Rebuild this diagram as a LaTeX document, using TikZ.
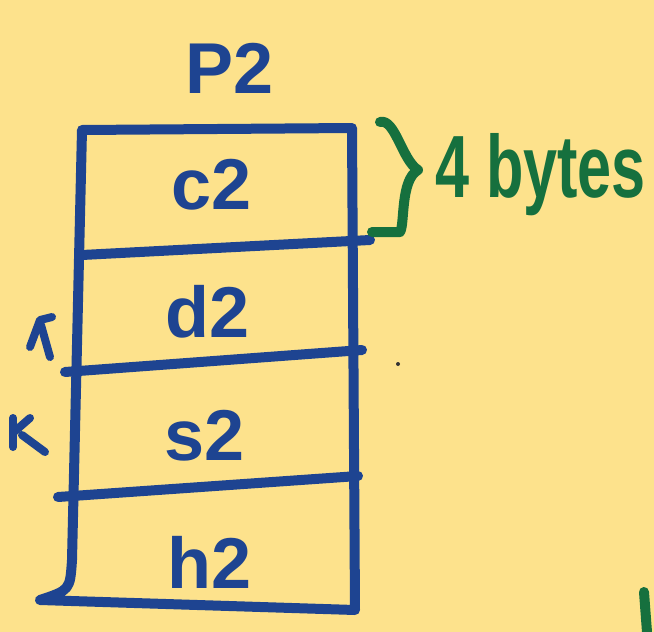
\documentclass[tikz,border=0pt]{standalone}
\usepackage{fontspec}
\setmainfont{Liberation Sans}
\begin{document}
\begin{tikzpicture}[
    x=0.5pt, y=-0.5pt,
    pen/.style={draw=penblue, line width=5pt, line cap=round, line join=round},
    greenpen/.style={draw=pengreen, line width=5pt, line cap=round, line join=round},
    cell/.style={text=penblue, font=\fontsize{36}{36}\selectfont\bfseries},
    note/.style={text=pengreen, font=\fontsize{34}{34}\selectfont\bfseries}
]
    \definecolor{paper}{RGB}{253,226,140}
    \definecolor{penblue}{RGB}{30,68,145}
    \definecolor{pengreen}{RGB}{22,112,62}
    \fill[paper] (0,0) rectangle (654,632);
    \useasboundingbox (0,0) rectangle (654,632);

    % Rahmen des Speicherblocks
    \draw[pen] (82,130) -- (352,128) -- (355,610) -- (40,600)
        .. controls (70,590) .. (72,560) -- (82,130);
    % Trennlinien zwischen den Feldern
    \draw[pen] (82,255) -- (370,240);
    \draw[pen] (65,372) -- (362,350);
    \draw[pen] (58,497) -- (358,476);

    % Beschriftungen
    \node[cell] (p2) at (230,68) {P2};
    \node[cell] (c2) at (212,185) {c2};
    \node[cell] (d2) at (208,312) {d2};
    \node[cell] (s2) at (205,436) {s2};
    \node[cell] (h2) at (210,562) {h2};

    % Klammer mit Größenangabe
    \draw[greenpen] (380,122) .. controls (395,118) and (402,160) .. (418,170)
        .. controls (400,180) and (405,225) .. (400,232) -- (372,232);
    \node[note, anchor=west] (bytes) at (428,175) {\scalebox{0.9}[1.3]{4 bytes}};

    % Randmarkierungen
    \draw[pen, line width=4pt] (30,347) -- (40,320) -- (52,317);
    \draw[pen, line width=4pt] (41,325) -- (50,357);
    \draw[pen, line width=4pt] (13,418) -- (13,447);
    \draw[pen, line width=4pt] (14,432) -- (30,418);
    \draw[pen, line width=4pt] (22,435) -- (45,452);
    \fill[black!80] (398,364) circle (2);
    \draw[greenpen] (644,592) -- (647,632);
\end{tikzpicture}
\end{document}
